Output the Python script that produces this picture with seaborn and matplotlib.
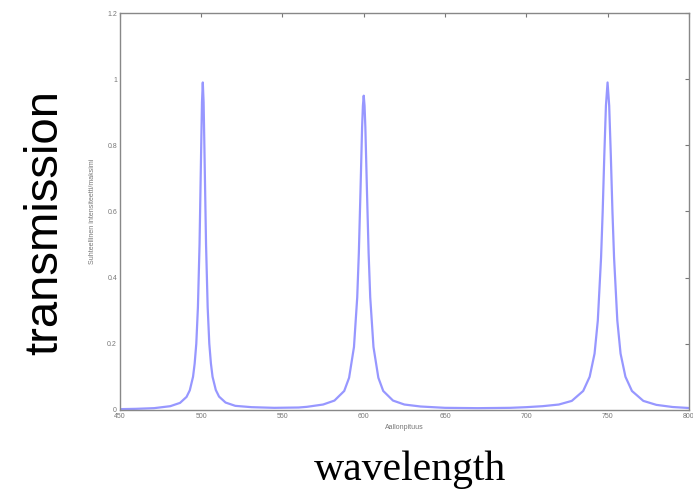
import matplotlib
matplotlib.use("Agg")
import matplotlib.pyplot as plt
import seaborn as sns
import pandas as pd

wavelength = [450, 460, 471, 481, 487, 491, 493, 495, 496, 497, 498, 499, 500, 500.5, 501,
              501.5, 502, 503, 504, 505, 506, 507, 509, 511, 515, 521, 531, 545, 560,
              565, 575, 582, 588, 591, 594, 596, 597, 598, 599, 599.5, 600, 600.5, 601,
              602, 603, 604, 606, 609, 612, 618, 625, 635, 650, 670, 690,
              700, 710, 720, 728, 735, 739, 742, 744, 746, 747, 748, 749, 750, 751, 752,
              753, 754, 756, 758, 761, 765, 772, 780, 790, 800]
transmission = [0.002, 0.003, 0.005, 0.011, 0.021, 0.039, 0.059, 0.10, 0.14, 0.20, 0.31, 0.50, 0.79, 0.93, 0.99,
                0.93, 0.79, 0.50, 0.31, 0.20, 0.14, 0.10, 0.06, 0.04, 0.022, 0.012, 0.008, 0.006, 0.007,
                0.009, 0.016, 0.028, 0.057, 0.097, 0.19, 0.34, 0.475, 0.66, 0.855, 0.92, 0.95, 0.92, 0.855,
                0.66, 0.475, 0.34, 0.19, 0.097, 0.057, 0.028, 0.016, 0.010, 0.006, 0.005, 0.006,
                0.008, 0.011, 0.016, 0.027, 0.057, 0.10, 0.17, 0.27, 0.46, 0.60, 0.77, 0.92, 0.99, 0.92, 0.77,
                0.60, 0.46, 0.27, 0.17, 0.10, 0.057, 0.027, 0.015, 0.0085, 0.0055]

x_ticks = [450, 500, 550, 600, 650, 700, 750, 800]
y_ticks = [0, 0.2, 0.4, 0.6, 0.8, 1, 1.2]
y_tick_labels = ["0", "0.2", "0.4", "0.6", "0.8", "1", "1.2"]

df = pd.DataFrame({"wavelength": wavelength, "transmission": transmission})

sns.set_style("white")
plt.rcParams['font.family'] = ['Liberation Sans', 'DejaVu Sans']

fig = plt.figure(figsize=(6.93, 5.01), dpi=100)
ax = fig.add_axes([0.173, 0.182, 0.821, 0.792])
sns.lineplot(data=df, x="wavelength", y="transmission", ax=ax,
             color="#8c8cff", linewidth=1.6, alpha=0.9)

ax.set_xlim(450, 800)
ax.set_ylim(0, 1.2)
ax.set_xticks(x_ticks)
ax.set_xticklabels([str(t) for t in x_ticks])
ax.set_yticks(y_ticks)
ax.set_yticklabels(y_tick_labels)
ax.tick_params(axis="both", direction="in", length=3, width=0.8, labelsize=5,
               colors="#777777", top=True, right=True, pad=2)
for s in ax.spines.values():
    s.set_color("#888888")
    s.set_linewidth(1.0)
    s.set_visible(True)

ax.set_xlabel("Aallonpituus", fontsize=5, color="#777777", labelpad=3)
ax.set_ylabel("Suhteellinen intensiteetti/maksimi", fontsize=5, color="#777777", labelpad=8)

fig.text(0.065, 0.555, "transmission", rotation=90, ha="center", va="center",
         fontsize=34, color="black", family=["Liberation Sans"])
fig.text(0.592, 0.062, "wavelength", ha="center", va="center",
         fontsize=30, color="black", family=["Liberation Serif"])

fig.savefig("out.png", dpi=100)
